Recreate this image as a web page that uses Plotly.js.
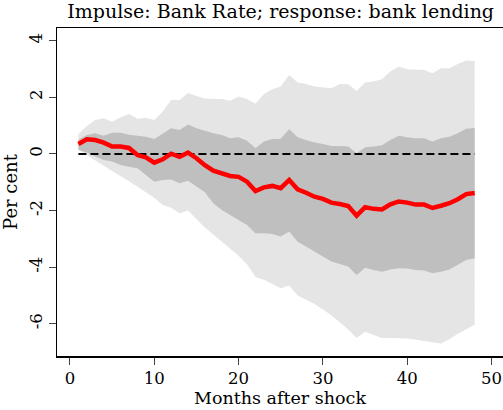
<!DOCTYPE html>
<html>
<head>
<meta charset="utf-8">
<script src="https://cdn.plot.ly/plotly-3.0.1.min.js"></script>
<style>html,body{margin:0;padding:0;background:#fff}#chart{width:503px;height:410px}</style>
</head>
<body>
<div id="chart"></div>
<script>
const months = Array.from({length: 48}, (_, i) => i + 1);
const median = [0.35,0.52,0.49,0.40,0.26,0.26,0.21,-0.04,-0.12,-0.31,-0.19,0.01,-0.10,0.05,-0.15,-0.40,
  -0.59,-0.68,-0.78,-0.81,-0.98,-1.31,-1.18,-1.13,-1.21,-0.92,-1.25,-1.37,-1.51,-1.59,-1.72,-1.77,-1.84,-2.18,
  -1.88,-1.94,-1.96,-1.78,-1.68,-1.72,-1.79,-1.79,-1.91,-1.83,-1.74,-1.60,-1.42,-1.38];
const innerUpper = [0.50,0.67,0.73,0.64,0.75,0.75,0.68,0.64,0.61,0.53,0.73,0.91,0.85,1.04,0.91,0.81,
  0.73,0.67,0.55,0.59,0.47,0.20,0.44,0.53,0.54,0.87,0.59,0.49,0.40,0.35,0.28,0.28,0.26,0.02,
  0.24,0.26,0.31,0.49,0.64,0.59,0.55,0.55,0.44,0.55,0.61,0.73,0.89,0.92];
const innerLower = [0.15,0.05,-0.09,-0.21,-0.27,-0.39,-0.45,-0.51,-0.74,-0.98,-0.92,-0.90,-1.04,-0.95,-1.15,-1.35,
  -1.74,-1.98,-2.16,-2.33,-2.51,-2.80,-2.80,-2.83,-2.92,-2.74,-3.10,-3.27,-3.45,-3.65,-3.80,-3.89,-3.98,-4.28,
  -4.02,-4.10,-4.16,-4.08,-4.04,-4.05,-4.10,-4.12,-4.22,-4.16,-4.08,-3.92,-3.75,-3.69];
const outerUpper = [0.70,0.99,1.20,1.26,1.14,1.30,1.41,1.24,1.28,1.20,1.50,1.91,1.91,2.15,2.05,1.96,
  1.94,1.94,1.88,2.03,1.94,1.77,2.12,2.29,2.38,2.79,2.52,2.47,2.38,2.34,2.32,2.47,2.46,2.22,
  2.52,2.56,2.64,2.91,3.09,2.99,2.97,2.97,2.85,3.03,3.03,3.18,3.30,3.28];
const outerLower = [0.15,-0.05,-0.25,-0.42,-0.60,-0.78,-0.95,-1.15,-1.35,-1.55,-1.80,-1.90,-2.10,-2.00,-2.30,-2.60,
  -2.85,-3.10,-3.35,-3.60,-3.90,-4.35,-4.45,-4.60,-4.75,-4.65,-5.00,-5.15,-5.30,-5.50,-5.70,-5.95,-6.20,-6.50,
  -6.28,-6.40,-6.50,-6.50,-6.50,-6.52,-6.57,-6.60,-6.65,-6.70,-6.55,-6.35,-6.20,-6.04];
const zeroLine = months.map(() => 0);
const xTicks = [0, 10, 20, 30, 40, 50];
const yTicks = [-6, -4, -2, 0, 2, 4];

const serif = 'DejaVu Serif, Liberation Serif, serif';
const traces = [
  {x: months, y: outerLower, mode: 'lines', line: {width: 0}, hoverinfo: 'skip', showlegend: false},
  {x: months, y: outerUpper, mode: 'lines', line: {width: 0}, fill: 'tonexty', fillcolor: '#e5e5e5', hoverinfo: 'skip', showlegend: false},
  {x: months, y: innerLower, mode: 'lines', line: {width: 0}, hoverinfo: 'skip', showlegend: false},
  {x: months, y: innerUpper, mode: 'lines', line: {width: 0}, fill: 'tonexty', fillcolor: '#bfbfbf', hoverinfo: 'skip', showlegend: false},
  {x: months, y: zeroLine, mode: 'lines', line: {color: '#000', width: 2, dash: '8px,4px'}, showlegend: false},
  {x: months, y: median, mode: 'lines', line: {color: '#ff0000', width: 4.5}, showlegend: false}
];
const layout = {
  width: 503, height: 410,
  margin: {l: 57, r: 0, t: 28, b: 54},
  paper_bgcolor: '#fff', plot_bgcolor: '#fff',
  font: {family: serif, color: '#000', size: 17},
  title: {text: 'Impulse: Bank Rate; response: bank lending', x: 0.558, xanchor: 'center', y: 0.988, yanchor: 'top', font: {family: serif, size: 19, color: '#000'}},
  xaxis: {
    range: [-1.54, 51.36], tickvals: xTicks, ticktext: xTicks.map(String),
    showgrid: false, zeroline: false, showline: true, linecolor: '#000', linewidth: 1.5, mirror: true,
    ticks: 'outside', ticklen: 7, tickcolor: '#444', tickwidth: 1,
    tickfont: {family: serif, size: 16.5},
    title: {text: 'Months after shock', font: {family: serif, size: 17.5}, standoff: 0}
  },
  yaxis: {
    range: [-7.14, 4.45], tickvals: yTicks, ticktext: yTicks.map(String), tickangle: -90,
    showgrid: false, zeroline: false, showline: true, linecolor: '#000', linewidth: 1.5, mirror: false,
    ticks: 'outside', ticklen: 7, tickcolor: '#444', tickwidth: 1,
    tickfont: {family: serif, size: 16.5},
    title: {text: 'Per cent', font: {family: serif, size: 18}, standoff: 6}
  }
};
Plotly.newPlot('chart', traces, layout, {displayModeBar: false, staticPlot: true});
</script>
</body>
</html>
